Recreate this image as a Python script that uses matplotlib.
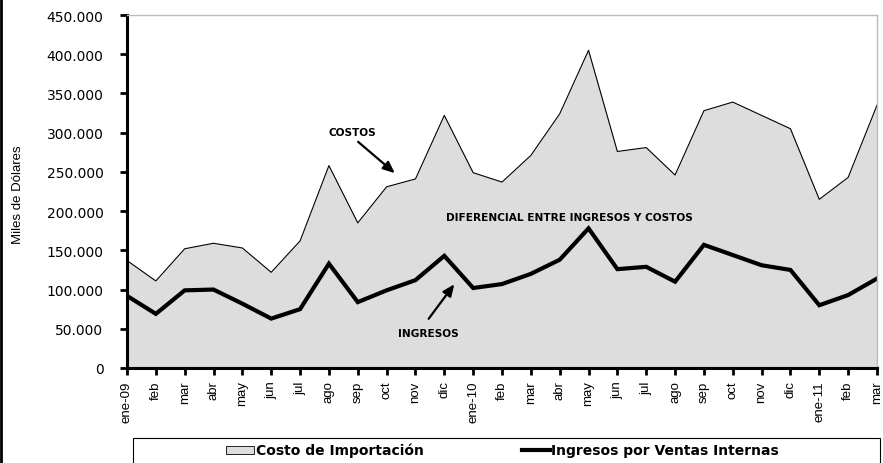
import matplotlib
matplotlib.use("Agg")
import matplotlib.pyplot as plt
from matplotlib.patches import Rectangle, FancyArrowPatch
from matplotlib.lines import Line2D
from matplotlib.ticker import FuncFormatter, MultipleLocator

plt.rcParams['font.family'] = ['Liberation Sans', 'DejaVu Sans']

months = ["ene-09", "feb", "mar", "abr", "may", "jun", "jul", "ago", "sep", "oct", "nov", "dic",
          "ene-10", "feb", "mar", "abr", "may", "jun", "jul", "ago", "sep", "oct", "nov", "dic",
          "ene-11", "feb", "mar"]
costos = [137000, 111000, 152000, 159000, 153000, 122000, 162000, 258000, 185000, 231000, 241000, 322000,
          249000, 237000, 271000, 324000, 405000, 276000, 281000, 246000, 328000, 339000, 322000, 305000,
          215000, 243000, 335000]
ingresos = [92000, 69000, 99000, 100000, 82000, 63000, 75000, 133000, 84000, 99000, 112000, 143000,
            102000, 107000, 120000, 138000, 178000, 126000, 129000, 110000, 157000, 144000, 131000, 125000,
            80000, 93000, 114000]
legend_labels = ["Costo de Importación", "Ingresos por Ventas Internas"]

W, H = 883, 464
fig = plt.figure(figsize=(W / 100, H / 100), dpi=100)
ax = fig.add_axes([127 / W, 1 - 369 / H, (877 - 127) / W, (369 - 16) / H])

x = list(range(len(months)))
ax.fill_between(x, costos, 0, color="#DDDDDD", lw=0)
ax.plot(x, costos, color="black", lw=0.8)
ax.plot(x, ingresos, color="black", lw=3, solid_joinstyle="miter")

ax.set_xlim(0, len(months) - 1)
ax.set_ylim(0, 450000)
ax.yaxis.set_major_locator(MultipleLocator(50000))
ax.yaxis.set_major_formatter(FuncFormatter(lambda v, p: f"{int(v):,}".replace(",", ".")))
ax.set_xticks(x)
ax.set_xticklabels(months, rotation=90, fontsize=9.5)
ax.tick_params(axis="y", length=5, width=2, direction="out", pad=12)
ax.tick_params(axis="x", length=5, width=2, direction="out", pad=4)
for lab in ax.get_yticklabels():
    lab.set_fontfamily("DejaVu Sans")
    lab.set_fontsize(10)

for s in ["left", "bottom"]:
    ax.spines[s].set_linewidth(2.2)
    ax.spines[s].set_color("black")
for s in ["top", "right"]:
    ax.spines[s].set_linewidth(1)
    ax.spines[s].set_color("#BBBBBB")

fig.text(18 / W, 1 - 195 / H, "Miles de Dólares", rotation=90, ha="center", va="center", fontsize=9.5)

def fx(px):
    return px / W

def fy(py):
    return 1 - py / H

bold = dict(fontsize=7.6, fontweight="bold", ha="center", va="center", family="DejaVu Sans")
fig.text(fx(352), fy(133), "COSTOS", **bold)
fig.text(fx(569), fy(218), "DIFERENCIAL ENTRE INGRESOS Y COSTOS", **bold)
fig.text(fx(428), fy(334), "INGRESOS", **bold)

arrow = dict(arrowstyle="-|>,head_length=0.7,head_width=0.3", color="black", lw=1.6)
fig.add_artist(FancyArrowPatch((fx(356), fy(141)), (fx(397), fy(176)),
                               transform=fig.transFigure, mutation_scale=10, **arrow))
fig.add_artist(FancyArrowPatch((fx(427), fy(322)), (fx(456), fy(283)),
                               transform=fig.transFigure, mutation_scale=10, **arrow))

# legend box
fig.add_artist(Rectangle((fx(133), fy(475)), fx(880 - 133), (475 - 439) / H, transform=fig.transFigure,
                         facecolor="white", edgecolor="black", lw=0.8))
fig.add_artist(Rectangle((fx(226), fy(455)), fx(28), 8 / H, transform=fig.transFigure,
                         facecolor="#DDDDDD", edgecolor="black", lw=0.6))
fig.text(fx(256), fy(451), legend_labels[0], ha="left", va="center", fontsize=10,
         fontweight="bold", family="DejaVu Sans")
fig.add_artist(Line2D([fx(522), fx(550)], [fy(451), fy(451)], transform=fig.transFigure,
                      color="black", lw=3))
fig.text(fx(551), fy(451), legend_labels[1], ha="left", va="center", fontsize=10,
         fontweight="bold", family="DejaVu Sans")

# left figure border
fig.add_artist(Line2D([1 / W, 1 / W], [0, 1], transform=fig.transFigure, color="black", lw=2))

fig.savefig("out.png", dpi=100)
